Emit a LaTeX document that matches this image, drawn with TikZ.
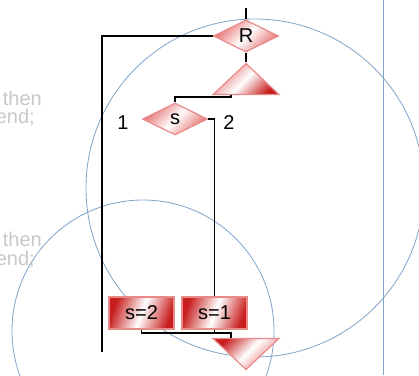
\documentclass[tikz,border=0pt]{standalone}
\usepackage{fontspec}
\setmainfont{Liberation Sans}
\usetikzlibrary{shapes.geometric,positioning}
\definecolor{rimred}{HTML}{E88A8A}
\definecolor{deepred}{HTML}{C81E1E}
\definecolor{softred}{HTML}{E67070}
\definecolor{ghost}{HTML}{C8C8C8}
\definecolor{wire}{HTML}{7FA3C9}
\begin{document}
\begin{tikzpicture}[x=1pt,y=-1pt,font=\fontsize{20}{24}\selectfont,
  dia/.style={diamond,draw=rimred,line width=1.2pt,inner sep=0pt,minimum width=65pt,minimum height=32pt,
    top color=softred,bottom color=softred,middle color=white,shading angle=45},
  act/.style={rectangle,draw=rimred,line width=1.2pt,inner sep=0pt,minimum width=65pt,minimum height=32pt,
    top color=deepred,bottom color=deepred,middle color=white,shading angle=70},
  tri/.style={isosceles triangle,isosceles triangle stretches,draw=rimred,line width=1.2pt,inner sep=0pt,
    minimum width=66pt,minimum height=31pt},
  flow/.style={draw,line width=1.6pt},
  circ/.style={draw=wire,line width=0.8pt},
  faded/.style={text=ghost,inner sep=0pt}]
\useasboundingbox (0,0) rectangle (419,375);
% background guides
\coordinate (c1) at (255,188);
\coordinate (c2) at (143,331);
\coordinate (rt) at (383,0);
\coordinate (rb) at (383,375);
\draw[circ] (c1) circle[radius=169];
\draw[circ] (c2) circle[radius=131];
\draw[circ] (rt) -- (rb);
% faded code text
\node[faded,anchor=base east] (then1) at (42,105) {then};
\node[faded,anchor=base east] (end1) at (35,123) {end;};
\node[faded,anchor=base east] (then2) at (42,246) {then};
\node[faded,anchor=base east] (end2) at (35,265) {end;};
% nodes
\node[dia] (R) at (246,36) {R};
\node[tri,shape border rotate=90,anchor=apex,top color=softred,bottom color=deepred,middle color=white,shading angle=45] (T1) at (246,62) {};
\node[dia] (s) at (175,119) {s};
\node (one) at (123,122.5) {1};
\node (two) at (229,123) {2};
\node[act] (s2) at (141.5,313) {s=2};
\node[act] (s1) at (214.5,313) {s=1};
\node[tri,shape border rotate=270,anchor=apex,top color=deepred,bottom color=softred,middle color=white,shading angle=45] (T2) at (246,371) {};
% connectors
\coordinate (entry) at (246,8);
\coordinate (back) at (102,352);
\coordinate (k1) at (231,97);
\coordinate (k2) at (231,333);
\draw[flow] (entry) -- (R.north);
\draw[flow] (R.west) -| (back);
\draw[flow] (R.south) -- (T1.apex);
\draw[flow] (T1.lower side -| k1) -- (k1) -| (s.north);
\draw[flow] (s.east) -| (s1.north);
\draw[flow] (s2.south) |- (k2) -- (T2.lower side -| k2);
\draw[flow] (s1.south) -- (s1.south |- k2);
\end{tikzpicture}
\end{document}
